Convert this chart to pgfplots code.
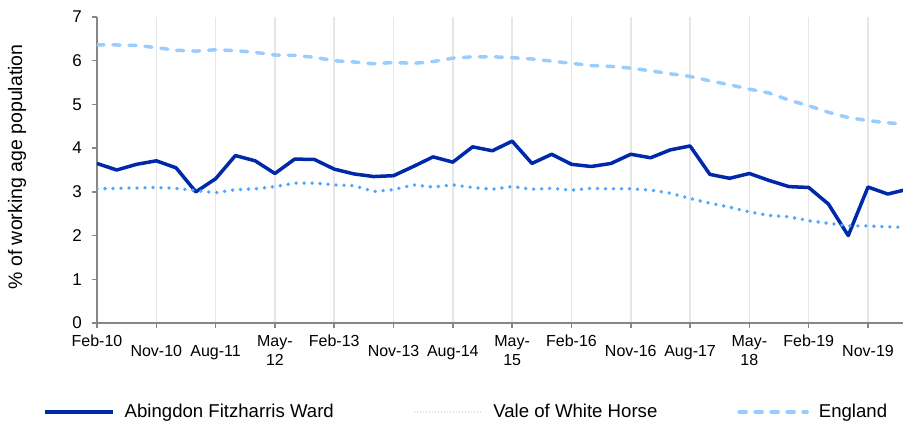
\documentclass[border=0pt]{standalone}
\usepackage{fontspec}
\setmainfont{Liberation Sans}
\usepackage{pgfplots}
\pgfplotsset{compat=1.18}
\definecolor{abing}{RGB}{0,40,170}
\definecolor{vale}{RGB}{77,166,255}
\definecolor{valeleg}{RGB}{190,215,240}
\definecolor{eng}{RGB}{153,204,255}
\definecolor{axisgray}{RGB}{134,134,134}
\definecolor{gridgray}{RGB}{230,230,230}
\begin{document}
\begin{tikzpicture}
\begin{axis}[
  at={(0pt,0pt)}, anchor=south west,
  scale only axis, width=806pt, height=306pt,
  xmin=0, xmax=40.77, ymin=0, ymax=7,
  axis x line*=bottom, axis y line*=left,
  axis line style={axisgray, line width=1.5pt, -},
  xtick={0,3,...,39},
  xticklabels={
    {\rule{0pt}{12pt}Feb-10},
    {\rule{0pt}{22pt}Nov-10},
    {\rule{0pt}{22pt}Aug-11},
    {\rule{0pt}{12pt}May-\\12},
    {\rule{0pt}{12pt}Feb-13},
    {\rule{0pt}{22pt}Nov-13},
    {\rule{0pt}{22pt}Aug-14},
    {\rule{0pt}{12pt}May-\\15},
    {\rule{0pt}{12pt}Feb-16},
    {\rule{0pt}{22pt}Nov-16},
    {\rule{0pt}{22pt}Aug-17},
    {\rule{0pt}{12pt}May-\\18},
    {\rule{0pt}{12pt}Feb-19},
    {\rule{0pt}{22pt}Nov-19}},
  ytick={0,1,...,7},
  tick align=outside,
  major tick length=5pt,
  tick style={axisgray, line width=1.5pt},
  xmajorgrids,
  x grid style={gridgray, line width=1.5pt},
  /pgf/number format/assume math mode=true,
  xticklabel style={font=\fontsize{16}{18.3}\selectfont, anchor=north, align=center, inner sep=0pt, yshift=-6.7pt},
  yticklabel style={font=\fontsize{17}{20}\selectfont, anchor=east, inner sep=0pt, xshift=-10pt},
  ylabel={\% of working age population},
  every axis y label/.style={at={(axis description cs:-0.0993,0.51)}, rotate=90, anchor=center, font=\fontsize{19.5}{22}\selectfont},
  legend columns=3,
  legend style={at={(axis description cs:-0.067,-0.2908)}, anchor=west, draw=none, fill=none, inner sep=0pt,
    font=\fontsize{18.6}{20}\selectfont,
    /tikz/every odd column/.append style={column sep=8pt},
    /tikz/every even column/.append style={column sep=78pt}},
  legend cell align=left,
  legend image code/.code={\draw[#1] (0pt,0pt) -- (68pt,0pt);},
]
\addplot[abing, line width=3.5pt, line join=round] coordinates {
(0,3.65) (1,3.50) (2,3.63) (3,3.71) (4,3.55) (5,3.00) (6,3.30) (7,3.83) (8,3.71) (9,3.42)
(10,3.75) (11,3.74) (12,3.52) (13,3.41) (14,3.35) (15,3.37) (16,3.58) (17,3.80) (18,3.68) (19,4.03)
(20,3.94) (21,4.16) (22,3.65) (23,3.86) (24,3.63) (25,3.58) (26,3.65) (27,3.86) (28,3.78) (29,3.96)
(30,4.05) (31,3.40) (32,3.31) (33,3.42) (34,3.26) (35,3.12) (36,3.10) (37,2.72) (38,2.00) (39,3.11)
(40,2.95) (41,3.06)};
\addlegendentry{Abingdon Fitzharris Ward}
\addplot[vale, line width=3.8pt, line cap=round, dash pattern=on 0pt off 8pt,
  legend image code/.code={\draw[valeleg, line width=1.5pt, line cap=round, dash pattern=on 0pt off 3pt] (0pt,0pt) -- (68pt,0pt);}] coordinates {
(0,3.07) (1,3.08) (2,3.09) (3,3.10) (4,3.08) (5,3.03) (6,2.98) (7,3.05) (8,3.07) (9,3.12)
(10,3.20) (11,3.20) (12,3.16) (13,3.14) (14,3.01) (15,3.05) (16,3.16) (17,3.11) (18,3.16) (19,3.10)
(20,3.06) (21,3.12) (22,3.06) (23,3.08) (24,3.04) (25,3.08) (26,3.07) (27,3.07) (28,3.04) (29,2.97)
(30,2.85) (31,2.74) (32,2.65) (33,2.54) (34,2.46) (35,2.43) (36,2.34) (37,2.28) (38,2.22) (39,2.22)
(40,2.20) (41,2.19)};
\addlegendentry{Vale of White Horse}
\addplot[eng, line width=3.5pt, line cap=round, dash pattern=on 7pt off 9pt] coordinates {
(0,6.36) (1,6.36) (2,6.35) (3,6.30) (4,6.24) (5,6.22) (6,6.25) (7,6.23) (8,6.19) (9,6.13)
(10,6.12) (11,6.08) (12,6.00) (13,5.97) (14,5.93) (15,5.96) (16,5.94) (17,5.98) (18,6.06) (19,6.09)
(20,6.09) (21,6.07) (22,6.04) (23,5.99) (24,5.94) (25,5.89) (26,5.87) (27,5.83) (28,5.77) (29,5.70)
(30,5.64) (31,5.54) (32,5.45) (33,5.35) (34,5.26) (35,5.10) (36,4.97) (37,4.82) (38,4.70) (39,4.63)
(40,4.58) (41,4.54)};
\addlegendentry{England}
\end{axis}
\pgfresetboundingbox
\path[use as bounding box] (-97pt,-102pt) rectangle (806pt,323pt);
\end{tikzpicture}
\end{document}
